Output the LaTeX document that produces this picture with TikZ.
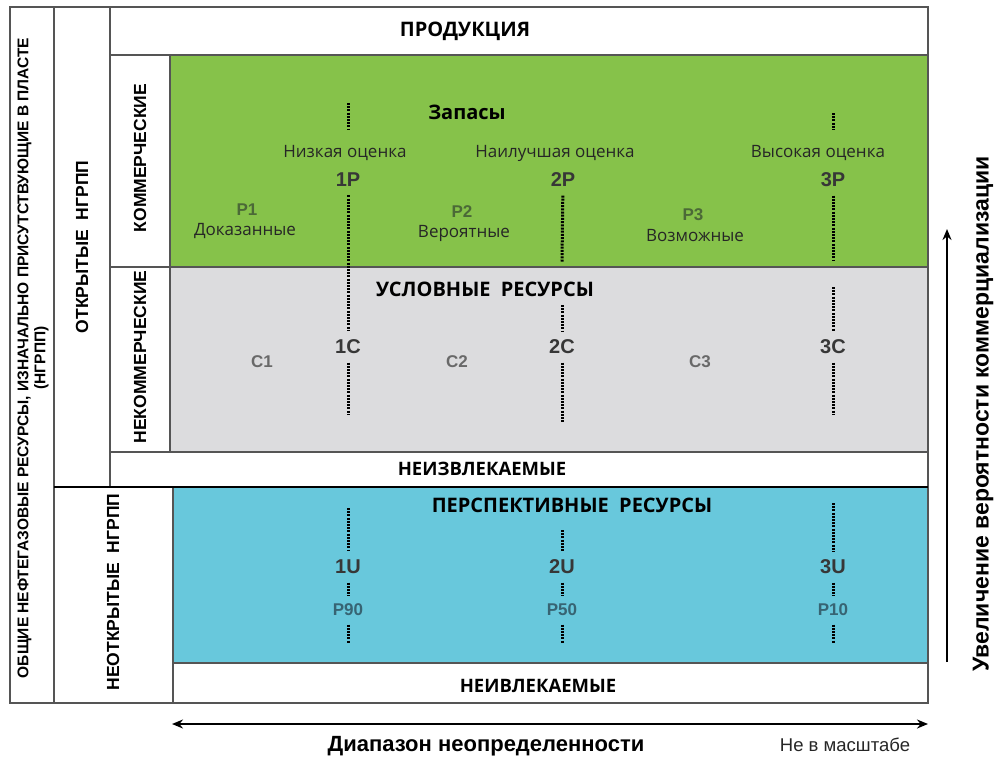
\documentclass[tikz,border=0pt]{standalone}
\usepackage{fontspec}
\setmainfont{Liberation Sans}
\newfontfamily\opensans{Open Sans}
\usepackage{graphicx}
\usetikzlibrary{arrows.meta,positioning}
\definecolor{zapgreen}{RGB}{134,194,74}
\definecolor{uslgrey}{RGB}{220,220,222}
\definecolor{perblue}{RGB}{104,200,220}
\definecolor{framegrey}{RGB}{85,85,85}
\definecolor{labgrey}{RGB}{55,55,55}
\definecolor{pgreen}{RGB}{75,105,55}
\definecolor{cgrey}{RGB}{105,105,105}
\definecolor{uteal}{RGB}{55,100,115}
\tikzset{
  frame/.style={draw=framegrey, line width=1.6pt},
  head/.style={font=\opensans\bfseries\fontsize{20}{23}\selectfont},
  rest/.style={font=\opensans\bfseries\fontsize{18.5}{22}\selectfont},
  estim/.style={font=\opensans\fontsize{17}{20}\selectfont, text=black!85},
  cat/.style={font=\bfseries\fontsize{20}{22}\selectfont, text=labgrey},
  sub/.style={font=\bfseries\fontsize{17}{20}\selectfont},
  vlab/.style={rotate=90, font=\bfseries\fontsize{17.5}{20}\selectfont, align=center},
  dots/.style={line width=3pt, dash pattern=on 2pt off 1.2pt},
  link/.style={dots, shorten <=5pt, shorten >=5pt},
}

\begin{document}
\begin{tikzpicture}[x=1pt,y=-1pt]
        \useasboundingbox (0,0) rectangle (994,758);

        % Frames of the classification
        \draw[frame] (10,7) rectangle (54,703);
        \draw[frame] (54,7) rectangle (110,487);
        \draw[frame] (54,487) rectangle (173,703);
        \draw[frame] (110,7) rectangle (928,55);
        \draw[frame] (110,55) rectangle (170,267);
        \draw[frame] (110,267) rectangle (170,452);
        \draw[frame] (110,452) rectangle (928,487);
        \draw[frame,fill=zapgreen] (170,55) rectangle (928,267);
        \draw[frame,fill=uslgrey] (170,267) rectangle (928,452);
        \draw[frame,fill=perblue] (173,487) rectangle (928,663);
        \draw[frame] (173,663) rectangle (928,703);
        \draw[line width=2pt] (54,487) -- (928,487);

        % Side labels
        \node[vlab, font=\bfseries\fontsize{15.5}{17}\selectfont] (total) at (33,358) {ОБЩИЕ НЕФТЕГАЗОВЫЕ РЕСУРСЫ, ИЗНАЧАЛЬНО ПРИСУТСТВУЮЩИЕ В ПЛАСТЕ\\(НГРПП)};
        \node[vlab] (otkr) at (82,247) {ОТКРЫТЫЕ\ \ НГРПП};
        \node[vlab] (komm) at (140,158) {КОММЕРЧЕСКИЕ};
        \node[vlab] (nekomm) at (140,357) {НЕКОММЕРЧЕСКИЕ};
        \node[vlab] (neotkr) at (113,592) {НЕОТКРЫТЫЕ\ \ НГРПП};

        % Row titles
        \node[head] (prod) at (465,31) {ПРОДУКЦИЯ};
        \node[head] (zap) at (467,112) {Запасы};
        \node[head] (usl) at (485,289) {УСЛОВНЫЕ\ \ РЕСУРСЫ};
        \node[rest] (neizv) at (482,469) {НЕИЗВЛЕКАЕМЫЕ};
        \node[head] (persp) at (572,505) {ПЕРСПЕКТИВНЫЕ\ \ РЕСУРСЫ};
        \node[rest] (neivl) at (538,686) {НЕИВЛЕКАЕМЫЕ};

        % Estimates
        \node[estim] (low) at (345,153) {Низкая оценка};
        \node[estim] (best) at (555,153) {Наилучшая оценка};
        \node[estim] (high) at (818,153) {Высокая оценка};
        \node[cat] (n1P) at (348,180) {1P};
        \node[cat] (n2P) at (563,180) {2P};
        \node[cat] (n3P) at (833,180) {3P};
        \node[cat] (n1C) at (348,347) {1C};
        \node[cat] (n2C) at (562,347) {2C};
        \node[cat] (n3C) at (833,347) {3C};
        \node[cat] (n1U) at (348,567) {1U};
        \node[cat] (n2U) at (562,567) {2U};
        \node[cat] (n3U) at (833,567) {3U};

        % Classes
        \node[sub, text=pgreen] (p1) at (247,210) {P1};
        \node[estim] (prov) at (245,231) {Доказанные};
        \node[sub, text=pgreen] (p2) at (462,212) {P2};
        \node[estim] (prob) at (464,233) {Вероятные};
        \node[sub, text=pgreen] (p3) at (693,215) {P3};
        \node[estim] (poss) at (695,236) {Возможные};
        \node[sub, text=cgrey] (c1) at (262,362) {C1};
        \node[sub, text=cgrey] (c2) at (457,362) {C2};
        \node[sub, text=cgrey] (c3) at (700,362) {C3};
        \node[sub, text=uteal] (p90) at (348,610) {P90};
        \node[sub, text=uteal] (p50) at (562,610) {P50};
        \node[sub, text=uteal] (p10) at (833,610) {P10};

        % Free ends of the dotted lines
        \coordinate (a1) at (348,103); \coordinate (b1) at (348,130);
        \coordinate (d1) at (348,414); \coordinate (u1) at (348,508);
        \coordinate (e1) at (348,643);
        \coordinate (b2) at (562,262); \coordinate (c2t) at (562,305);
        \coordinate (d2) at (562,422); \coordinate (u2) at (562,530);
        \coordinate (e2) at (562,643);
        \coordinate (a3) at (833,113); \coordinate (b3) at (833,130);
        \coordinate (b3p) at (833,260); \coordinate (c3t) at (833,287);
        \coordinate (d3) at (833,415); \coordinate (u3) at (833,503);
        \coordinate (e3) at (833,643);

        % Dotted lines
        \draw[dots] (a1) -- (b1);
        \draw[link] (n1P) -- (n1C);
        \draw[dots, shorten <=5pt] (n1C) -- (d1);
        \draw[dots, shorten >=5pt] (u1) -- (n1U);
        \draw[link] (n1U) -- (p90);
        \draw[dots, shorten <=5pt] (p90) -- (e1);
        \draw[dots, shorten <=5pt] (n2P) -- (b2);
        \draw[dots, shorten >=5pt] (c2t) -- (n2C);
        \draw[dots, shorten <=5pt] (n2C) -- (d2);
        \draw[dots, shorten >=5pt] (u2) -- (n2U);
        \draw[link] (n2U) -- (p50);
        \draw[dots, shorten <=5pt] (p50) -- (e2);
        \draw[dots] (a3) -- (b3);
        \draw[dots, shorten <=5pt] (n3P) -- (b3p);
        \draw[dots, shorten >=5pt] (c3t) -- (n3C);
        \draw[dots, shorten <=5pt] (n3C) -- (d3);
        \draw[dots, shorten >=5pt] (u3) -- (n3U);
        \draw[link] (n3U) -- (p10);
        \draw[dots, shorten <=5pt] (p10) -- (e3);

        % Axes
        \coordinate (ul) at (172,724); \coordinate (ur) at (928,724);
        \coordinate (vb) at (947,662); \coordinate (vt) at (947,229);
        \draw[line width=2.4pt, {Stealth[length=11pt,width=9pt]}-{Stealth[length=11pt,width=9pt]}] (ul) -- (ur);
        \draw[line width=2.4pt, -{Stealth[length=11pt,width=9pt]}] (vb) -- (vt);
        \node[font=\bfseries\fontsize{22}{25}\selectfont] (diap) at (486,746) {Диапазон неопределенности};
        \node[font=\fontsize{18.5}{21}\selectfont, text=black!85] (nots) at (845,745) {Не в масштабе};
        \node[rotate=90, font=\bfseries\fontsize{23}{26}\selectfont] (uvel) at (983,414) {Увеличение вероятности коммерциализации};
\end{tikzpicture}
\end{document}
